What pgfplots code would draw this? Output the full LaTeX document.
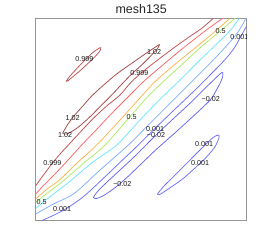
\documentclass[border=0pt]{standalone}
\usepackage{fontspec}
\setmainfont{Liberation Sans}
\usepackage{pgfplots}
\pgfplotsset{compat=1.18}
\definecolor{cA}{RGB}{165,70,70}
\definecolor{cB}{RGB}{190,80,80}
\definecolor{cC}{RGB}{255,100,100}
\definecolor{cD}{RGB}{255,180,80}
\definecolor{cE}{RGB}{175,235,100}
\definecolor{cF}{RGB}{110,230,255}
\definecolor{cG}{RGB}{125,175,255}
\definecolor{cH}{RGB}{110,110,255}
\definecolor{cI}{RGB}{100,100,245}
\definecolor{frame}{RGB}{150,150,150}
\begin{document}
\begin{tikzpicture}
\path[use as bounding box] (0,0) rectangle (273bp,249bp);
\begin{axis}[
  at={(35.7bp,28.3bp)}, anchor=south west,
  scale only axis, width=211bp, height=202.4bp,
  xmin=107, xmax=740, ymin=55, ymax=662, y dir=reverse,
  xtick=\empty, ytick=\empty,
  axis line style={frame, line width=0.8bp},
  every axis title shift=0pt,
  title={mesh135},
  title style={at={(0.5,1)}, anchor=base, yshift=4.5bp, font=\fontsize{12.5}{14}\selectfont, text=black!85},
  every axis plot/.append style={line width=0.75bp, smooth, tension=0.5, no markers},
  clip=true,
]
% 0.999 small ellipse (upper left)
\addplot[cB] coordinates {(198,244) (210,228) (230,206) (255,180) (278,158) (295,146) (302,143) (300,152) (285,170) (262,192) (238,214) (215,233) (203,243) (198,244)};
% 1.02 loop
\addplot[cA] coordinates {(188,400) (200,378) (220,350) (245,322) (275,288) (310,256) (350,222) (395,190) (435,162) (462,144) (478,134) (472,146) (452,168) (425,195) (395,222) (365,253) (335,285) (300,320) (265,355) (230,385) (200,402) (188,400)};
% 0.999
\addplot[cB] coordinates {(107,557) (125,532) (155,492) (180,462) (205,435) (240,397) (280,355) (320,318) (360,285) (390,250) (420,222) (460,190) (510,152) (560,116) (605,85) (640,55)};
% 0.9
\addplot[cC] coordinates {(107,582) (130,557) (150,537) (195,490) (245,435) (290,388) (340,335) (390,285) (430,245) (480,202) (530,160) (580,120) (630,82) (668,55)};
% 0.7
\addplot[cD] coordinates {(107,597) (140,568) (178,540) (230,490) (290,435) (360,360) (425,288) (465,245) (520,197) (580,148) (635,103) (690,55)};
% 0.5
\addplot[cE] coordinates {(107,607) (150,573) (193,540) (250,490) (315,435) (390,350) (445,288) (495,240) (555,185) (610,135) (662,92) (705,55)};
% 0.3
\addplot[cF] coordinates {(107,625) (150,590) (208,545) (280,485) (350,435) (420,360) (480,298) (540,240) (600,180) (650,132) (690,92) (718,55)};
% 0.1
\addplot[cG] coordinates {(107,642) (160,612) (223,580) (300,510) (385,435) (450,370) (510,310) (570,250) (625,195) (670,148) (705,108) (730,70) (737,55)};
% 0.001
\addplot[cH] coordinates {(125,662) (160,646) (200,625) (250,590) (310,535) (360,487) (415,435) (462,388) (520,332) (580,275) (630,225) (672,182) (702,145) (722,110) (740,78)};
% -0.02 loop
\addplot[cI] coordinates {(280,592) (292,575) (320,547) (360,510) (405,468) (468,405) (520,356) (575,305) (615,265) (645,236) (662,220) (668,218) (668,230) (660,250) (648,272) (633,297) (605,325) (565,362) (520,403) (470,447) (425,490) (380,533) (345,563) (310,587) (288,596) (280,592)};
% 0.001 small loop (lower right)
\addplot[cH] coordinates {(472,582) (490,560) (510,540) (560,490) (610,440) (640,412) (655,405) (657,413) (645,440) (625,465) (600,490) (550,535) (500,570) (478,584) (472,582)};
% contour labels
\begin{scope}[every node/.style={font=\fontsize{7.2}{8}\selectfont, text=black!90, inner sep=0pt}]
\node at (axis cs:253,177) {0.999};
\node at (axis cs:462,155) {1.02};
\node at (axis cs:418,220) {0.999};
\node at (axis cs:662,92) {0.5};
\node at (axis cs:718,110) {0.001};
\node at (axis cs:632,297) {−0.02};
\node at (axis cs:218,353) {1.02};
\node at (axis cs:395,350) {0.5};
\node at (axis cs:195,405) {1.02};
\node at (axis cs:465,388) {0.001};
\node at (axis cs:468,406) {−0.02};
\node at (axis cs:612,433) {0.001};
\node at (axis cs:157,488) {0.999};
\node at (axis cs:600,490) {0.001};
\node at (axis cs:367,553) {−0.02};
\node at (axis cs:125,605) {0.5};
\node at (axis cs:186,628) {0.001};
\end{scope}
\end{axis}
\end{tikzpicture}
\end{document}
